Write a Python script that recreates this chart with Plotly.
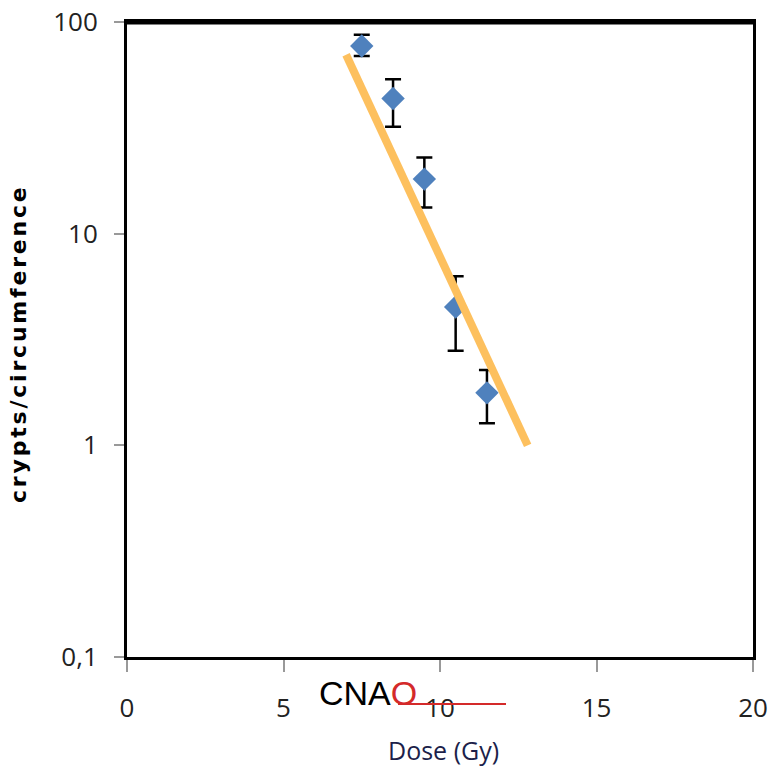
import plotly.graph_objects as go

dose = [7.5, 8.5, 9.5, 10.5, 11.5]
crypts = [77, 43.5, 18.1, 4.5, 1.77]
err_plus = [10, 10.2, 4.8, 1.8, 0.5]
err_minus = [8, 11.5, 4.8, 1.7, 0.5]

fit_x = [7.0, 12.8]
fit_y = [70, 1.0]

x_ticks = [0, 5, 10, 15, 20]
y_ticks = [0.1, 1, 10, 100]
y_ticktext = ["0,1", "1", "10", "100"]

L, R, T, B = 127, 22, 22, 112
W, H = 775, 769
pw = W - L - R
ph = H - T - B

def px(xp):
    return (xp - L) / pw

def py(yp):
    return (H - B - yp) / ph

fig = go.Figure()
fig.add_trace(go.Scatter(
    x=dose, y=crypts, mode="markers",
    marker=dict(symbol="diamond", size=18, color="#4F81BD", line=dict(width=0)),
    error_y=dict(type="data", array=err_plus, arrayminus=err_minus,
                 color="black", thickness=2.5, width=8),
    showlegend=False,
))
fig.add_trace(go.Scatter(
    x=fit_x, y=fit_y, mode="lines",
    line=dict(color="#FDC05E", width=8),
    showlegend=False,
))

tickfont = dict(family="Open Sans", size=26, color="#222222")

fig.update_layout(
    width=W, height=H,
    margin=dict(l=L, r=R, t=T, b=B, autoexpand=False),
    paper_bgcolor="white", plot_bgcolor="white",
    xaxis=dict(range=[0, 20], tickvals=x_ticks, showgrid=False, zeroline=False,
               automargin=False,
               showline=True, linecolor="black", linewidth=3, mirror=True,
               ticks="outside", ticklen=12, tickwidth=2, tickcolor="#999999",
               tickfont=tickfont, ticklabelstandoff=14),
    yaxis=dict(type="log", range=[-1, 2], tickvals=y_ticks, ticktext=y_ticktext,
               showgrid=False, zeroline=False, automargin=False,
               showline=True, linecolor="black", linewidth=3, mirror=True,
               ticks="outside", ticklen=10, tickwidth=2, tickcolor="#999999",
               tickfont=tickfont, ticklabelstandoff=11),
    shapes=[
        dict(type="line", xref="paper", yref="paper", x0=0, x1=1, y0=1, y1=1,
             line=dict(color="black", width=5)),
        dict(type="line", xref="paper", yref="paper", x0=px(398), x1=px(506),
             y0=py(704), y1=py(704), line=dict(color="#D42A2A", width=2)),
    ],
    annotations=[
        dict(text="<span style='letter-spacing:2.8px'>crypts/circumference</span>",
             xref="paper", yref="paper",
             x=px(18), y=py(344), xanchor="center", yanchor="middle",
             textangle=-90, showarrow=False,
             font=dict(family="DejaVu Sans", size=22, color="black", weight="bold")),
        dict(text="Dose (Gy)", xref="paper", yref="paper",
             x=px(443), y=py(750), xanchor="center", yanchor="middle",
             showarrow=False,
             font=dict(family="Open Sans", size=25, color="#1C1F4A")),
        dict(text="CNA<span style='color:#D42A2A'>O</span>", xref="paper", yref="paper",
             x=px(368), y=py(693), xanchor="center", yanchor="middle",
             showarrow=False,
             font=dict(family="Liberation Sans", size=34, color="black")),
    ],
)

fig.write_html("out.html", config={"displayModeBar": False},
               post_script="document.body.style.margin='0px';")
